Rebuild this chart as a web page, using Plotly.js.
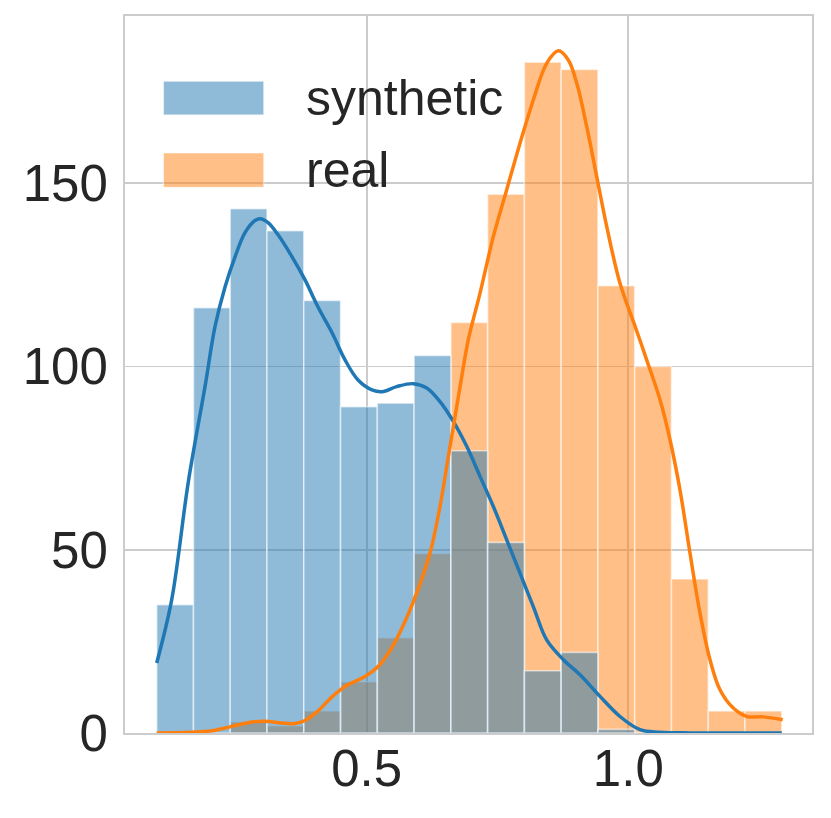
<!DOCTYPE html>
<html lang="en">
  <head>
    <meta charset="UTF-8" />
    <meta name="viewport" content="width=device-width, initial-scale=1.0" />
    <title>synthetic vs real</title>
    <script src="https://cdn.plot.ly/plotly-3.0.1.min.js"></script>
    <style>
      body { margin: 0; background: #fff; }
    </style>
  </head>
  <body>
    <div id="myDiv" style="width: 831px; height: 818px"></div>
    <script>
      // both histograms share the same 17 bins
      var binStart = 0.0986;
      var binWidth = 0.07028;
      var synthCounts = [35, 116, 143, 137, 118, 89, 90, 103, 77, 52, 17, 22, 1, 0, 0, 0, 0];
      var realCounts = [0, 0, 3, 2, 6, 14, 26, 49, 112, 147, 183, 181, 122, 100, 42, 6, 6];

      // kde curves (already scaled to counts)
      var synthKdeX = [0.0986, 0.1273, 0.159, 0.1909, 0.2101, 0.2292, 0.2483, 0.2674, 0.2865,
        0.2961, 0.3114, 0.3305, 0.3573, 0.3821, 0.4069, 0.4337, 0.4585, 0.4834, 0.5101, 0.5293,
        0.5573, 0.5891, 0.6147, 0.6401, 0.6655, 0.6911, 0.7166, 0.742, 0.7676, 0.793, 0.8184,
        0.844, 0.8759, 0.9077, 0.9459, 0.9841, 1.0224, 1.0606, 1.12, 1.2, 1.2934];
      var synthKdeY = [19.1, 36.4, 68.5, 94.5, 110.9, 121.7, 129.9, 136.5, 139.8,
        140.3, 139.2, 135.9, 129.9, 123.6, 116.2, 109.2, 101.8, 96.3, 93.6, 93.1,
        94.5, 95.3, 94.1, 90.4, 85.0, 78.2, 70.0, 61.8, 52.7, 43.6, 34.5,
        25.4, 20.0, 15.9, 10.0, 4.5, 0.9, 0.2, 0.02, 0, 0];

      var realKdeX = [0.0986, 0.1655, 0.2037, 0.242, 0.2802, 0.3056, 0.3375, 0.363, 0.3821, 0.4075,
        0.4331, 0.4585, 0.4967, 0.5222, 0.5478, 0.5732, 0.5956, 0.621, 0.6401, 0.656, 0.6688,
        0.6816, 0.6942, 0.7166, 0.742, 0.7676, 0.793, 0.8184, 0.844, 0.8662, 0.8853, 0.9014,
        0.9205, 0.9396, 0.9587, 0.9841, 1.0128, 1.0351, 1.0606, 1.0797, 1.0988,
        1.1179, 1.137, 1.1561, 1.1752, 1.2007, 1.2263, 1.258, 1.2951];
      var realKdeY = [0, 0.2, 0.6, 1.8, 3.0, 3.2, 2.7, 2.6, 3.4, 6.1,
        9.8, 12.7, 15.4, 18.2, 23.2, 30.4, 38.2, 49.1, 61.8, 75.4, 86.3,
        97.2, 107.3, 120.0, 135.4, 148.2, 160.9, 172.7, 182.7, 186.1, 183.6, 177.3,
        165.4, 151.8, 138.2, 122.7, 111.0, 101.8, 90.9, 80.0, 66.3,
        49.1, 32.7, 20.0, 11.8, 6.8, 4.5, 4.4, 3.6];

      var seriesNames = ["synthetic", "real"];

      var blue = "#1f77b4";
      var orange = "#ff7f0e";
      var blueFill = "rgba(31,119,180,0.5)";
      var orangeFill = "rgba(255,127,14,0.5)";
      var textColor = "#262626";
      var gridColor = "#cccccc";
      var font = "Liberation Sans, Arial, sans-serif";

      var binCenters = synthCounts.map((_, i) => binStart + (i + 0.5) * binWidth);

      function bars(counts, fill) {
        return {
          type: "bar",
          x: binCenters,
          y: counts,
          width: binWidth,
          marker: { color: fill, line: { color: "rgba(255,255,255,0.55)", width: 1.6 } },
          showlegend: false,
          hoverinfo: "skip",
        };
      }

      function kde(xs, ys, color) {
        return {
          type: "scatter",
          mode: "lines",
          x: xs,
          y: ys,
          line: { color: color, width: 3.5, shape: "spline", smoothing: 1 },
          showlegend: false,
          hoverinfo: "skip",
        };
      }

      // real first so the blue lies on top (overlap turns grey)
      var data = [
        bars(realCounts, orangeFill),
        bars(synthCounts, blueFill),
        kde(synthKdeX, synthKdeY, blue),
        kde(realKdeX, realKdeY, orange),
      ];

      // hand-made legend with wide patches, like matplotlib's
      var legendRows = [
        { name: seriesNames[0], fill: blueFill, y0: 0.862, y1: 0.909 },
        { name: seriesNames[1], fill: orangeFill, y0: 0.761, y1: 0.809 },
      ];
      var shapes = legendRows.map((r) => ({
        type: "rect",
        xref: "paper",
        yref: "paper",
        x0: 0.056,
        x1: 0.202,
        y0: r.y0,
        y1: r.y1,
        fillcolor: r.fill,
        line: { color: "rgba(255,255,255,0.55)", width: 1.2 },
      }));
      var annotations = legendRows.map((r) => ({
        xref: "paper",
        yref: "paper",
        x: 0.26,
        y: (r.y0 + r.y1) / 2,
        xanchor: "left",
        yanchor: "middle",
        text: r.name,
        showarrow: false,
        font: { family: font, size: 50, color: textColor },
      }));

      var axisBase = {
        showgrid: true,
        gridcolor: gridColor,
        gridwidth: 1.8,
        showline: true,
        linecolor: gridColor,
        linewidth: 2,
        mirror: true,
        zeroline: false,
        ticks: "",
        tickfont: { family: font, size: 51, color: textColor },
      };

      var layout = {
        width: 831,
        height: 818,
        margin: { l: 125, r: 19, t: 16, b: 85 },
        paper_bgcolor: "#ffffff",
        plot_bgcolor: "#ffffff",
        barmode: "overlay",
        bargap: 0,
        showlegend: false,
        xaxis: Object.assign({}, axisBase, {
          range: [0.038, 1.3511],
          tick0: 0,
          dtick: 0.5,
          tickformat: ".1f",
          ticklabelstandoff: -10,
        }),
        yaxis: Object.assign({}, axisBase, {
          range: [0, 195.6],
          tick0: 0,
          dtick: 50,
          ticklabelstandoff: 5,
        }),
        shapes: shapes,
        annotations: annotations,
      };

      Plotly.newPlot("myDiv", data, layout, { staticPlot: true, displayModeBar: false });
    </script>
  </body>
</html>
